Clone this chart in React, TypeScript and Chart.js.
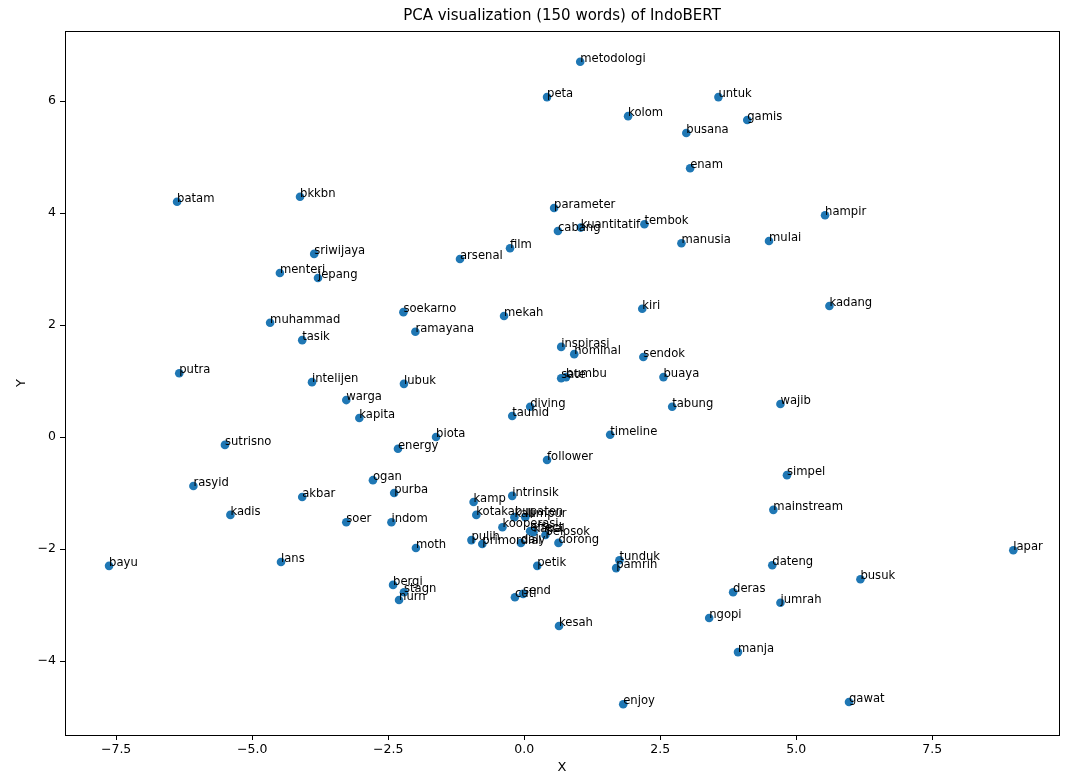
import React, { useEffect, useRef } from "react";
import { Chart, registerables } from "chart.js";

Chart.register(...registerables);

const words = [
  "metodologi", "peta", "untuk", "kolom", "gamis", "busana", "enam", "batam", "bkkbn", "parameter",
  "hampir", "kuantitatif", "cabang", "tembok", "manusia", "mulai", "film", "sriwijaya", "arsenal", "menteri",
  "jepang", "kiri", "kadang", "soekarno", "mekah", "muhammad", "tasik", "ramayana", "inspirasi", "nominal",
  "sendok", "sate", "bumbu", "putra", "buaya", "intelijen", "lubuk", "warga", "wajib", "tabung",
  "diving", "kapita", "tauhid", "timeline", "biota", "sutrisno", "energy", "follower", "simpel", "ogan",
  "rasyid", "purba", "intrinsik", "akbar", "kamp", "mainstream", "kadis", "kotakabupaten", "kali", "lumpur",
  "soer", "indom", "kooperasi", "effect", "kapal", "pelosok", "pulih", "primordial", "daly", "dorong",
  "moth", "tunduk", "pamrih", "lapar", "lans", "bayu", "petik", "dateng", "busuk", "bergi",
  "stagn", "nurn", "deras", "cuti", "send", "jumrah", "ngopi", "kesah", "manja", "enjoy", "gawat",
];

const xs = [
  1.03, 0.42, 3.57, 1.91, 4.10, 2.98, 3.05, -6.38, -4.12, 0.55,
  5.53, 1.04, 0.62, 2.21, 2.89, 4.50, -0.26, -3.86, -1.18, -4.49,
  -3.79, 2.17, 5.61, -2.22, -0.37, -4.67, -4.08, -2.00, 0.68, 0.92,
  2.19, 0.68, 0.77, -6.34, 2.56, -3.90, -2.21, -3.27, 4.71, 2.72,
  0.11, -3.03, -0.22, 1.58, -1.62, -5.50, -2.32, 0.42, 4.83, -2.78,
  -6.08, -2.39, -0.22, -4.08, -0.93, 4.58, -5.40, -0.88, -0.18, 0.02,
  -3.27, -2.44, -0.40, 0.11, 0.17, 0.39, -0.97, -0.77, -0.06, 0.63,
  -1.99, 1.75, 1.69, 8.99, -4.47, -7.63, 0.24, 4.56, 6.18, -2.41,
  -2.21, -2.30, 3.84, -0.17, -0.02, 4.71, 3.40, 0.64, 3.93, 1.82, 5.97,
];

const ys = [
  6.70, 6.07, 6.07, 5.73, 5.66, 5.43, 4.80, 4.20, 4.29, 4.09,
  3.96, 3.74, 3.68, 3.80, 3.46, 3.50, 3.37, 3.27, 3.18, 2.93,
  2.84, 2.29, 2.34, 2.23, 2.16, 2.04, 1.73, 1.88, 1.61, 1.48,
  1.43, 1.05, 1.07, 1.14, 1.07, 0.98, 0.95, 0.66, 0.59, 0.54,
  0.54, 0.34, 0.375, 0.04, 0.0, -0.14, -0.21, -0.41, -0.68, -0.77,
  -0.875, -1.0, -1.05, -1.07, -1.16, -1.30, -1.39, -1.39, -1.43, -1.43,
  -1.52, -1.52, -1.61, -1.68, -1.70, -1.75, -1.84, -1.91, -1.89, -1.89,
  -1.98, -2.20, -2.34, -2.02, -2.23, -2.30, -2.30, -2.29, -2.54, -2.64,
  -2.77, -2.91, -2.77, -2.86, -2.80, -2.96, -3.23, -3.375, -3.84, -4.77, -4.73,
];

const xTicks = [-7.5, -5.0, -2.5, 0.0, 2.5, 5.0, 7.5];
const yTicks = [-4, -2, 0, 2, 4, 6];

const titleText = "PCA visualization (150 words) of IndoBERT";
const xLabel = "X";
const yLabel = "Y";

const FONT = "'DejaVu Sans', sans-serif";

const fmtMinus = (s: string) => s.replace("-", "\u2212");

export default function App() {
  const ref = useRef<HTMLCanvasElement | null>(null);

  useEffect(() => {
    document.body.style.margin = "0";
    const canvas = ref.current;
    if (!canvas) return;

    const overlay = {
      id: "overlay",
      afterDatasetsDraw(chart: any) {
        const ctx = chart.ctx;
        const xs_ = chart.scales.x;
        const ys_ = chart.scales.y;
        const area = chart.chartArea;
        ctx.save();
        ctx.fillStyle = "#000";
        ctx.font = `11.6px ${FONT}`;
        ctx.textAlign = "left";
        ctx.textBaseline = "alphabetic";
        words.forEach((w, i) => {
          const px = xs_.getPixelForValue(xs[i]);
          const py = ys_.getPixelForValue(ys[i]);
          ctx.fillText(w, px, py);
        });
        ctx.strokeStyle = "#000";
        ctx.lineWidth = 1;
        ctx.strokeRect(
          Math.round(area.left) + 0.5,
          Math.round(area.top) + 0.5,
          Math.round(area.right - area.left),
          Math.round(area.bottom - area.top)
        );
        ctx.font = `15px ${FONT}`;
        ctx.textAlign = "center";
        ctx.textBaseline = "middle";
        ctx.fillText(titleText, (area.left + area.right) / 2, 16);
        ctx.font = `13px ${FONT}`;
        ctx.fillText(xLabel, (area.left + area.right) / 2, 768);
        ctx.save();
        ctx.translate(22, (area.top + area.bottom) / 2);
        ctx.rotate(-Math.PI / 2);
        ctx.fillText(yLabel, 0, 0);
        ctx.restore();
        ctx.restore();
      },
    };

    const chart = new Chart(canvas, {
      type: "scatter",
      data: {
        datasets: [
          {
            data: words.map((_, i) => ({ x: xs[i], y: ys[i] })),
            backgroundColor: "#1f77b4",
            borderWidth: 0,
            pointRadius: 4.3,
            pointHoverRadius: 4.3,
          },
        ],
      },
      options: {
        responsive: false,
        animation: false,
        events: [],
        layout: { padding: { left: 0, right: 6, top: 31, bottom: 0 } },
        plugins: {
          legend: { display: false },
          tooltip: { enabled: false },
          title: { display: false },
        },
        scales: {
          x: {
            type: "linear",
            min: -8.44,
            max: 9.83,
            afterBuildTicks: (s: any) => {
              s.ticks = xTicks.map((v) => ({ value: v }));
            },
            afterFit: (s: any) => {
              s.height = 41;
            },
            grid: {
              drawOnChartArea: false,
              drawTicks: true,
              tickLength: 5,
              tickColor: "#000",
            },
            border: { display: false },
            ticks: {
              color: "#000",
              font: { family: FONT, size: 12.5 },
              padding: 2,
              maxRotation: 0,
              autoSkip: false,
              callback: (v: any) => fmtMinus(Number(v).toFixed(1)),
            },
          },
          y: {
            type: "linear",
            min: -5.32,
            max: 7.25,
            afterBuildTicks: (s: any) => {
              s.ticks = yTicks.map((v) => ({ value: v }));
            },
            afterFit: (s: any) => {
              s.width = 65;
            },
            grid: {
              drawOnChartArea: false,
              drawTicks: true,
              tickLength: 5,
              tickColor: "#000",
            },
            border: { display: false },
            ticks: {
              color: "#000",
              font: { family: FONT, size: 12.5 },
              padding: 4,
              autoSkip: false,
              callback: (v: any) => fmtMinus(String(Math.round(Number(v)))),
            },
          },
        },
      },
      plugins: [overlay],
    } as any);

    return () => chart.destroy();
  }, []);

  return (
    <div style={{ position: "absolute", left: 0, top: 0, width: 1065, height: 776, background: "#fff" }}>
      <canvas ref={ref} width={1065} height={776} style={{ width: 1065, height: 776, display: "block" }} />
    </div>
  );
}
